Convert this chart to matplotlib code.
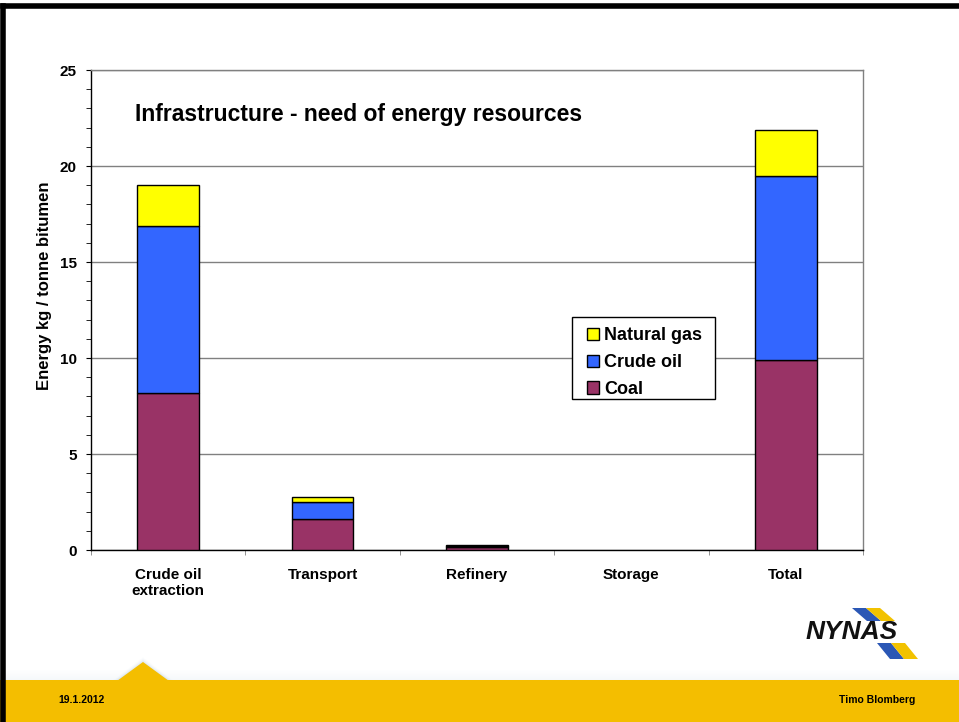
import numpy as np
import matplotlib.pyplot as plt
from matplotlib.patches import Polygon, Rectangle
from matplotlib.lines import Line2D

plt.rcParams['font.family'] = ['Liberation Sans', 'DejaVu Sans']
plt.rcParams['font.weight'] = 'bold'

# data (kg / tonne bitumen)
categories = ['Crude oil\nextraction', 'Transport', 'Refinery', 'Storage', 'Total']
coal = [8.2, 1.6, 0.15, 0.0, 9.9]
crude_oil = [8.7, 0.9, 0.06, 0.0, 9.6]
natural_gas = [2.1, 0.28, 0.04, 0.0, 2.4]
y_ticks = [0, 5, 10, 15, 20, 25]

colors = {'Coal': '#993366', 'Crude oil': '#3366FF', 'Natural gas': '#FFFF00'}

W, H = 959, 722
fig = plt.figure(figsize=(W / 100, H / 100), dpi=100)
fig.patch.set_facecolor('white')

def fx(px):
    return px / W

def fy(py):
    return 1 - py / H

# slide decorations: footer band with little peak, thick black frame top/left
for i in range(10):
    a = 0.07 * (1 - i / 10)
    fig.patches.append(Rectangle((0, fy(680 - i)), 1, 1 / H, transform=fig.transFigure,
                                 facecolor='#7fa6c4', alpha=a, edgecolor='none'))
for i in range(6):
    a = 0.08 * (1 - i / 6)
    fig.patches.append(Polygon([(fx(117 - i), fy(681)), (fx(143), fy(662 - i)), (fx(169 + i), fy(681))],
                               closed=True, transform=fig.transFigure,
                               facecolor='#7fa6c4', alpha=a, edgecolor='none'))
fig.patches.append(Rectangle((0, 0), 1, fy(680), transform=fig.transFigure,
                             facecolor='#F4BE00', edgecolor='none'))
fig.patches.append(Polygon([(fx(117), fy(681)), (fx(143), fy(662)), (fx(169), fy(681))],
                           closed=True, transform=fig.transFigure,
                           facecolor='#F4BE00', edgecolor='none'))
fig.add_artist(Line2D([fx(3), 1], [fy(6), fy(6)], transform=fig.transFigure,
                      color='black', lw=4))
fig.add_artist(Line2D([fx(3), fx(3)], [0, fy(6)], transform=fig.transFigure,
                      color='black', lw=4))

foot_font = ['Liberation Sans Narrow', 'Liberation Sans', 'DejaVu Sans']
fig.text(fx(58), fy(700), '19.1.2012', fontsize=7.5, fontweight='bold', va='center',
         family=foot_font)
fig.text(fx(915), fy(700), 'Timo Blomberg', fontsize=7.5, fontweight='bold',
         va='center', ha='right', family=foot_font)

# NYNAS logo (rough)
blue_l, yellow_l = '#2b57b5', '#f2c200'
fig.patches.append(Polygon([(fx(852), fy(608)), (fx(866), fy(608)), (fx(881), fy(621)), (fx(867), fy(621))],
                           closed=True, transform=fig.transFigure, facecolor=blue_l, edgecolor='none'))
fig.patches.append(Polygon([(fx(866), fy(608)), (fx(880), fy(608)), (fx(895), fy(621)), (fx(881), fy(621))],
                           closed=True, transform=fig.transFigure, facecolor=yellow_l, edgecolor='none'))
fig.patches.append(Polygon([(fx(877), fy(643)), (fx(891), fy(643)), (fx(904), fy(659)), (fx(890), fy(659))],
                           closed=True, transform=fig.transFigure, facecolor=blue_l, edgecolor='none'))
fig.patches.append(Polygon([(fx(891), fy(643)), (fx(905), fy(643)), (fx(918), fy(659)), (fx(904), fy(659))],
                           closed=True, transform=fig.transFigure, facecolor=yellow_l, edgecolor='none'))
fig.text(fx(852), fy(632), 'NYNAS', fontsize=19, fontweight='heavy', fontstyle='italic',
         ha='center', va='center', color='#111111')

# chart
ax = fig.add_axes([fx(91), fy(550), fx(863) - fx(91), fy(70) - fy(550)])
x = np.arange(len(categories))
bw = 0.4

def edges(vals):
    return ['black' if v > 0 else 'none' for v in vals]

b1 = ax.bar(x, coal, bw, color=colors['Coal'], edgecolor=edges(coal), lw=1,
            label='Coal', zorder=3)
b2 = ax.bar(x, crude_oil, bw, bottom=coal, color=colors['Crude oil'],
            edgecolor=edges(crude_oil), lw=1, label='Crude oil', zorder=3)
bot = np.array(coal) + np.array(crude_oil)
b3 = ax.bar(x, natural_gas, bw, bottom=bot, color=colors['Natural gas'],
            edgecolor=edges(natural_gas), lw=1, label='Natural gas', zorder=3)

ax.set_xlim(-0.5, len(categories) - 0.5)
ax.set_ylim(0, 25)
ax.set_yticks(y_ticks)
ax.set_yticks(np.arange(0, 26, 1), minor=True)
ax.yaxis.grid(True, color='#808080', lw=1, zorder=0)
ax.tick_params(axis='y', which='both', direction='out', length=3.6, color='black',
               labelsize=11, pad=6.5)
ax.set_xticks(x)
ax.set_xticklabels(categories, fontsize=11, fontweight='bold', linespacing=1.15)
ax.set_xticks(np.arange(-0.5, len(categories), 1), minor=True)
ax.tick_params(axis='x', which='major', length=0, pad=13)
ax.tick_params(axis='x', which='minor', direction='out', length=3.6, color='#808080')
for lab in ax.get_yticklabels():
    lab.set_fontweight('bold')

ax.spines['left'].set_color('black')
ax.spines['bottom'].set_color('black')
ax.spines['top'].set_color('#808080')
ax.spines['right'].set_color('#808080')
for s in ax.spines.values():
    s.set_linewidth(1)

fig.text(fx(45), fy(286), 'Energy kg / tonne bitumen', rotation=90, fontsize=12,
         fontweight='bold', ha='center', va='center')

fig.text(fx(135), fy(114), 'Infrastructure - need of energy resources',
         fontsize=16.5, fontweight='bold', va='center', ha='left')

# legend: frame drawn separately to match the wider box of the original
ax.add_patch(Rectangle((fx(572), fy(399)), fx(715) - fx(572), fy(317) - fy(399),
                       transform=fig.transFigure, facecolor='white', edgecolor='black',
                       lw=1, zorder=4, clip_on=False))
leg = ax.legend([b3, b2, b1], ['Natural gas', 'Crude oil', 'Coal'],
                loc='upper left', bbox_to_anchor=(fx(587), fy(327)),
                bbox_transform=fig.transFigure, frameon=False,
                handlelength=0.65, handleheight=0.65, borderaxespad=0,
                handletextpad=0.3, labelspacing=0.55, borderpad=0,
                prop={'size': 13, 'weight': 'bold'})
leg.set_zorder(6)

fig.savefig('out.png', dpi=100)
